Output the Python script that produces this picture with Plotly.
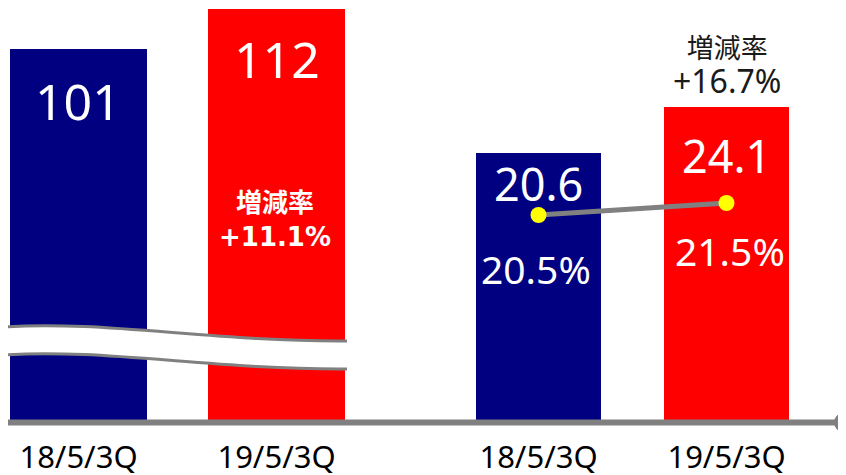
import plotly.graph_objects as go

# ---- data ----
categories = ["18/5/3Q", "19/5/3Q"]
sales = [101, 112]            # left group (broken axis)
profit = [20.6, 24.1]         # right group
margin_pct = [20.5, 21.5]     # line on right group
growth_title = "増減率"
sales_growth = "+11.1%"
profit_growth = "+16.7%"
bar_colors = ["#000080", "#FF0000"]

OFF = 8                 # page body margin
W, H = 846 - OFF, 475 - OFF
PLOT_BOTTOM = 421       # in screenshot pixels
PH = PLOT_BOTTOM - OFF  # plot height (top margin 0)
MB = H - PH
SPLIT = (405.6 - OFF) / W


def px(x):
    return (x - OFF) / W


def py(y):
    return (PLOT_BOTTOM - y) / PH


REG = "Noto Sans, Noto Sans CJK JP, sans-serif"
BOLD = "DejaVu Sans, Noto Sans CJK JP, sans-serif"

fig = go.Figure()
fig.add_trace(go.Bar(x=categories, y=sales, marker_color=bar_colors, marker_line_width=0,
                     width=0.692, xaxis="x", yaxis="y", showlegend=False, hoverinfo="skip"))
fig.add_trace(go.Bar(x=categories, y=profit, marker_color=bar_colors, marker_line_width=0,
                     width=0.665, xaxis="x2", yaxis="y2", showlegend=False, hoverinfo="skip"))
fig.add_trace(go.Scatter(x=categories, y=margin_pct, mode="lines+markers", xaxis="x2", yaxis="y3",
                         line=dict(color="#808080", width=5),
                         marker=dict(color="#FFFF00", size=16, line=dict(width=0)),
                         showlegend=False, hoverinfo="skip"))

ax_common = dict(type="category", showgrid=False, zeroline=False, showline=False, ticks="",
                 ticklabelstandoff=15, automargin=False,
                 tickfont=dict(family=REG, size=31, color="#000000"))
fig.update_layout(
    width=W, height=H,
    margin=dict(l=0, r=0, t=0, b=MB),
    paper_bgcolor="white", plot_bgcolor="white",
    xaxis=dict(domain=[0, SPLIT], range=[-0.356, 1.652], anchor="y", **ax_common),
    xaxis2=dict(domain=[SPLIT, 1], range=[-0.7069, 1.6356], anchor="y2", **ax_common),
    yaxis=dict(domain=[0, 1], range=[0, 112.2], visible=False, anchor="x"),
    yaxis2=dict(domain=[0, 1], range=[0, PH / 13.02], visible=False, anchor="x2"),
    yaxis3=dict(range=[3.333, 3.333 + PH / 12.0], visible=False, overlaying="y2", anchor="x2"),
    bargap=0,
)

ann = []
# value labels
for c, v, s in zip(categories, sales, [-52, -50]):
    ann.append(dict(x=c, y=v, xref="x", yref="y", text=str(v), showarrow=False, yshift=s,
                    yanchor="middle", font=dict(family=REG, size=50, color="white")))
for c, v, s in zip(categories, profit, [-31, -48]):
    ann.append(dict(x=c, y=v, xref="x2", yref="y2", text=f"{v:.1f}", showarrow=False, yshift=s,
                    yanchor="middle", font=dict(family=REG, size=45, color="white")))
for c, v, s, xs in zip(categories, margin_pct, [-53, -47], [-3, 3]):
    ann.append(dict(x=c, y=v, xref="x2", yref="y3", text=f"{v:.1f}%", showarrow=False, yshift=s,
                    xshift=xs, yanchor="middle", font=dict(family=REG, size=39, color="white")))
# growth labels
ann.append(dict(x=categories[1], y=sales[1], xref="x", yref="y",
                text=f"<b>{growth_title}<br>{sales_growth}</b>",
                showarrow=False, yshift=-211, xshift=-2, yanchor="middle",
                font=dict(family=BOLD, size=26, color="white")))
ann.append(dict(x=categories[1], y=profit[1], xref="x2", yref="y2",
                text=f"{growth_title}<br><span style='font-size:32px'>{profit_growth}</span>",
                showarrow=False, yshift=42, yanchor="middle",
                font=dict(family=REG, size=27, color="#1a1a1a")))
fig.update_layout(annotations=ann)


def bez(p0, p1, p2, p3):
    return (f"M {px(p0[0])},{py(p0[1])} C {px(p1[0])},{py(p1[1])} "
            f"{px(p2[0])},{py(p2[1])} {px(p3[0])},{py(p3[1])}")


top = [(4, 327), (100, 320), (215, 342), (347, 341)]
bot = [(4, 355), (100, 348), (215, 370), (347, 369)]
fill_path = (bez(*top) + f" L {px(bot[3][0])},{py(bot[3][1])} "
             f"C {px(bot[2][0])},{py(bot[2][1])} {px(bot[1][0])},{py(bot[1][1])} "
             f"{px(bot[0][0])},{py(bot[0][1])} Z")

shapes = [
    dict(type="path", xref="paper", yref="paper", path=fill_path, fillcolor="white",
         line=dict(width=0), layer="above"),
    dict(type="path", xref="paper", yref="paper", path=bez(*top),
         line=dict(color="#808080", width=3), layer="above"),
    dict(type="path", xref="paper", yref="paper", path=bez(*bot),
         line=dict(color="#808080", width=3), layer="above"),
    # baseline axis with end dot
    dict(type="line", xref="paper", yref="paper", x0=px(0), x1=px(843), y0=py(422.5), y1=py(422.5),
         line=dict(color="#808080", width=6), layer="above"),
    dict(type="circle", xref="paper", yref="paper", x0=px(834), x1=px(853), y0=py(413), y1=py(432),
         fillcolor="#808080", line=dict(width=0), layer="above"),
]
fig.update_layout(shapes=shapes)

fig.write_html("out.html")
